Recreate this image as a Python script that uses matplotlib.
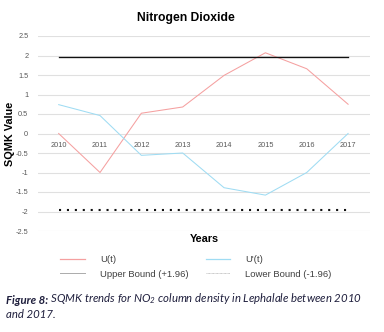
import matplotlib
matplotlib.use("Agg")
import matplotlib.pyplot as plt
from matplotlib.lines import Line2D

years = ["2010", "2011", "2012", "2013", "2014", "2015", "2016", "2017"]
u_t = [0.0, -1.0, 0.52, 0.68, 1.49, 2.07, 1.66, 0.75]
u_prime_t = [0.74, 0.46, -0.56, -0.50, -1.39, -1.58, -1.00, 0.0]
upper_bound = 1.96
lower_bound = -1.96
y_ticks = [2.5, 2, 1.5, 1, 0.5, 0, -0.5, -1, -1.5, -2, -2.5]
y_tick_labels = ["2.5", "2", "1.5", "1", "0.5", "0", "-0.5", "-1", "-1.5", "-2", "-2.5"]

plt.rcParams["mathtext.fontset"] = "custom"
plt.rcParams["mathtext.it"] = "Lato:italic"
plt.rcParams["mathtext.rm"] = "Lato:italic"

fig = plt.figure(figsize=(3.84, 3.32), dpi=100)
ax = fig.add_axes([38/384, 1-231/332, (370-38)/384, (231-36)/332])

x = list(range(len(years)))
sans = "Liberation Sans"
pink = "#F5A0A0"
blue = "#9FDCF3"

ax.plot(x, u_t, color=pink, lw=0.75, label="U(t)", zorder=3)
ax.plot(x, u_prime_t, color=blue, lw=0.75, label="U'(t)", zorder=3)
ax.plot([x[0], x[-1]], [upper_bound]*2, color="#111111", lw=0.95, zorder=3)
ax.plot([x[0], x[-1]], [lower_bound]*2, color="#111111", lw=1.5,
        linestyle=(0, (1, 2.8)), dash_capstyle="butt", zorder=3)

ax.set_xlim(-0.5, 7.53)
ax.set_ylim(-2.5, 2.5)
ax.set_yticks(y_ticks)
ax.set_yticklabels(y_tick_labels, fontsize=5.3, color="#595959", family=sans)
ax.tick_params(axis="y", length=0, pad=7)
ax.set_xticks([])
ax.yaxis.grid(True, color="#E0E0E0", lw=0.8)
ax.set_axisbelow(True)
for s in ax.spines.values():
    s.set_visible(False)

for i, yr in enumerate(years):
    ax.annotate(yr, (i, 0), xytext=(0, -12), textcoords="offset pixels",
                ha="center", va="center", fontsize=5.3, color="#595959", family=sans)

fig.text(186/384, 1-18/332, "Nitrogen Dioxide", ha="center", va="center",
         fontsize=8.7, fontweight="bold", family=sans, color="#000000")
fig.text(10/384, 1-134/332, "SQMK Value", ha="center", va="center", rotation=90,
         fontsize=7.8, fontweight="bold", family=sans, color="#000000")
fig.text(204/384, 1-239/332, "Years", ha="center", va="center",
         fontsize=7.8, fontweight="bold", family=sans, color="#000000")

handles = [
    Line2D([], [], color=pink, lw=0.9),
    Line2D([], [], color="#ABABAB", lw=0.7),
    Line2D([], [], color=blue, lw=0.9),
    Line2D([], [], color="#B8B8B8", lw=0.6, linestyle=(0, (1, 0.6))),
]
labels = ["U(t)", "Upper Bound (+1.96)", "U'(t)", "Lower Bound (-1.96)"]
leg = fig.legend(handles, labels, ncol=2, loc="center", bbox_to_anchor=(196/384, 1-267/332),
                 frameon=False, prop={"family": sans, "size": 6.8}, handlelength=2.6,
                 handletextpad=1.6, columnspacing=1.8, labelspacing=0.55)
for t in leg.get_texts():
    t.set_color("#404040")

cap_color = "#1F1F3D"
fs = 8.2
t1 = fig.text(6/384, 1-299/332, "Figure 8:", ha="left", va="center_baseline",
              fontsize=fs, family="Lato", fontweight="bold", style="italic", color=cap_color)
ax.annotate(" SQMK trends for NO$_2$ column density in Lephalale between 2010",
            xy=(1, 0), xycoords=t1, ha="left", va="bottom", annotation_clip=False,
            fontsize=fs, family="Lato", style="italic", color=cap_color)
fig.text(6/384, 1-313/332, "and 2017.", ha="left", va="center_baseline",
         fontsize=fs, family="Lato", style="italic", color=cap_color)

fig.savefig("out.png", dpi=100)
